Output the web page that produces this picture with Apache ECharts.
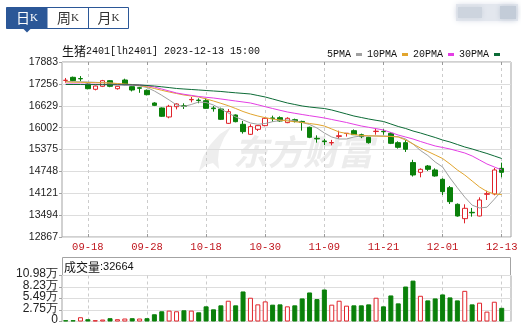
<!DOCTYPE html>
<html><head><meta charset="utf-8">
<script src="https://cdn.jsdelivr.net/npm/echarts@6/dist/echarts.min.js"></script>
<style>html,body{margin:0;padding:0;background:#fff}#c{width:521px;height:328px}</style>
</head><body><div id="c"></div>
<script>
const dates = ['09-13','09-14','09-15','09-18','09-19','09-20','09-21','09-22','09-25','09-26','09-27','09-28',
'10-09','10-10','10-11','10-12','10-13','10-16','10-17','10-18','10-19','10-20','10-23','10-24','10-25','10-26','10-27',
'10-30','10-31','11-01','11-02','11-03','11-06','11-07','11-08','11-09','11-10','11-13','11-14','11-15','11-16','11-17',
'11-20','11-21','11-22','11-23','11-24','11-27','11-28','11-29','11-30','12-01','12-04','12-05','12-06','12-07','12-08',
'12-11','12-12','12-13'];
const openP = [17355,17444,17410,17252,17101,17186,17347,17118,17367,17176,17145,17072,16708,16565,16307,16602,16630,16800,16790,16775,
16565,16536,16125,16364,16097,15810,15953,16059,16280,16288,16145,16230,16180,16011,15695,15620,15565,15750,15835,15915,
15800,15724,15890,15895,15839,15571,15571,15000,14721,14902,14788,14520,14281,13804,13393,13575,13469,14090,14100,14835];
const closeP = [17360,17350,17400,17118,17195,17347,17186,17186,17232,17080,17130,16946,16640,16327,16613,16680,16615,16810,16780,16555,
16545,16240,16460,16173,15887,16030,16059,16269,16260,16192,16269,16180,16150,15724,15680,15600,15575,15770,15840,15800,
15744,15571,15900,15885,15552,15438,15380,14645,14807,14807,14616,14167,13880,13469,13689,13560,13928,14110,14788,14721];
const lowP = [17290,17330,17330,17100,17070,17165,17160,17090,17220,17040,17000,16926,16620,16310,16270,16525,16536,16727,16700,16540,
16460,16220,16106,16154,15830,15791,15906,16040,16173,16170,16130,16150,15915,15700,15571,15500,15495,15686,15745,15790,
15700,15543,15800,15800,15530,15400,15304,14600,14578,14760,14597,14071,13813,13450,13259,13450,13460,13928,14062,14578];
const highP = [17425,17465,17480,17265,17205,17370,17360,17195,17405,17185,17170,17095,16730,16580,16655,16700,16699,16880,16842,16842,
16620,16574,16536,16380,16192,16097,16070,16307,16345,16326,16300,16260,16200,16030,15781,15680,15650,15915,15845,15950,
15830,15740,15972,15960,15877,15610,15648,15080,14835,14930,14835,14550,14329,13830,13804,13700,14004,14196,14845,14998];
const ma5 = [17324,17318,17315,17310,17300,17290,17281,17260,17238,17224,17195,17152,17052,16929,16794,16651,16608,16665,16737,16722,
16651,16536,16421,16307,16221,16135,16098,16120,16172,16206,16221,16201,16149,16092,15991,15848,15733,15676,15676,15733,
15762,15762,15762,15762,15753,15742,15676,15533,15347,15203,15017,14874,14560,14280,14010,13780,13700,13720,13950,14190];
const ma10 = [17310,17304,17301,17295,17290,17287,17281,17267,17252,17238,17210,17172,17124,17072,17023,16980,16937,16909,16880,16823,
16765,16699,16631,16550,16464,16393,16335,16287,16249,16221,16192,16169,16149,16120,16092,16049,15963,15877,15834,15805,
15776,15768,15762,15753,15748,15733,15647,15533,15418,15318,15218,15117,14960,14788,14644,14472,14300,14171,14100,14085];
const ma20 = [17252,17252,17249,17246,17244,17238,17235,17233,17230,17227,17224,17201,17166,17109,17052,16995,16958,16926,16894,16871,
16851,16823,16794,16765,16737,16708,16657,16602,16550,16499,16450,16413,16378,16344,16312,16278,16235,16192,16149,16098,
16049,16011,15974,15934,15862,15790,15733,15676,15605,15539,15476,15433,15390,15333,15275,15189,15075,14960,14874,14788];
const ma30 = [17238,17238,17238,17235,17235,17233,17233,17230,17230,17227,17224,17210,17195,17172,17149,17124,17109,17095,17081,17066,
17052,17038,17018,17000,16983,16966,16923,16880,16823,16765,16708,16665,16622,16593,16570,16550,16507,16450,16393,16335,
16292,16249,16212,16178,16106,16034,15977,15905,15848,15783,15719,15647,15590,15518,15447,15390,15324,15261,15189,15117];
const volumes = [3100,3100,10200,5500,3100,4700,7900,5500,7100,7900,7100,7900,17300,24400,26000,24400,26800,26000,22000,36200,
29100,38600,49600,38600,71700,56700,40900,48000,40200,40900,36200,38600,55100,69300,53500,76400,40200,49600,37800,38600,
38600,40900,56700,36200,62200,43300,83500,97600,61400,50400,55100,64600,57500,50400,73200,40900,44900,23600,47200,32664];
const volUp = [0,0,1,0,1,1,0,1,1,0,1,0,0,0,1,1,0,1,0,0,0,0,1,0,0,1,1,1,0,0,1,0,0,0,0,0,1,1,1,0,0,0,1,0,0,0,0,0,1,0,0,0,0,0,1,0,1,1,1,0];
const priceMin = 12867, priceMax = 17883, priceStep = 627;
const volLabels = ['0','2.75万','5.49万','8.23万','10.98万'];
const volMax = 109800, volStep = 27450;
const maNames = ['5PMA','10PMA','20PMA','30PMA'];
const title = {name:'生猪', code:'2401[lh2401]', time:'2023-12-13 15:00'};

const RED = '#e0242b', GREEN = '#0a800a', FRAME = '#a3a3a3';
const maColors = ['#a0a0a0','#e2a52e','#e43ee4','#0c6b36'];
const showIdx = (i) => i % 8 === 3;

const chart = echarts.init(document.getElementById('c'), null, {renderer:'canvas'});
const candles = dates.map((d,i)=>[openP[i], closeP[i], lowP[i], highP[i]]);
const volData = volumes.map((v,i)=>({value:v, itemStyle: volUp[i] ? {color:'#ffffff', borderColor:RED, borderWidth:1} : {color:GREEN, borderColor:GREEN, borderWidth:1}}));
const mas = [ma5, ma10, ma20, ma30];

const catTick = {show:true, inside:true, length:3, interval:showIdx, alignWithLabel:true, lineStyle:{color:'#999'}};

const option = {
  animation:false,
  backgroundColor:'#ffffff',
  grid:[
    {left:62, top:62, right:10, height:175, show:true, borderColor:FRAME, borderWidth:1, backgroundColor:'transparent'},
    {left:62, top:62, width:443.4, height:175},
    {left:62, top:275.5, right:10, height:46, show:true, borderColor:FRAME, borderWidth:1, backgroundColor:'transparent'},
    {left:62, top:275.5, width:443.4, height:46}
  ],
  xAxis:[
    {gridIndex:0, type:'value', min:0, max:1, show:false},
    {gridIndex:1, type:'category', data:dates, boundaryGap:true,
      axisLine:{show:false}, axisTick:catTick,
      axisLabel:{interval:showIdx, color:'#c0161d', fontFamily:'Liberation Mono', fontSize:10.5, margin:5},
      splitLine:{show:true, interval:showIdx, alignWithLabel:true, lineStyle:{color:'#cccccc', type:[3,3]}}},
    {gridIndex:1, type:'category', data:dates, position:'top', boundaryGap:true,
      axisLine:{show:false}, axisTick:catTick, axisLabel:{show:false}, splitLine:{show:false}},
    {gridIndex:2, type:'value', min:0, max:1, show:false},
    {gridIndex:3, type:'category', data:dates, boundaryGap:true,
      axisLine:{show:false}, axisTick:{show:false}, axisLabel:{show:false},
      splitLine:{show:true, interval:showIdx, alignWithLabel:true, lineStyle:{color:'#cccccc', type:[3,3]}}}
  ],
  yAxis:[
    {gridIndex:0, type:'value', min:priceMin, max:priceMax, interval:priceStep,
      axisLine:{show:false}, axisTick:{show:true, length:3, lineStyle:{color:FRAME}},
      axisLabel:{color:'#222', fontFamily:'Liberation Sans', fontSize:10.5, margin:4, showMinLabel:true, showMaxLabel:true, hideOverlap:false,
        formatter:(v)=>String(Math.round(v))},
      splitLine:{show:true, lineStyle:{color:'#dddddd'}}},
    {gridIndex:1, type:'value', min:priceMin, max:priceMax, interval:priceStep, show:false},
    {gridIndex:2, type:'category', data:volLabels, boundaryGap:false,
      axisLine:{show:false}, axisTick:{show:true, length:3, interval:0, lineStyle:{color:FRAME}},
      axisLabel:{interval:0, color:'#222', fontFamily:'Liberation Sans', fontSize:12, lineHeight:11, verticalAlign:'bottom', padding:[0,0,-4,0],
        margin:4, hideOverlap:false, showMinLabel:true, showMaxLabel:true},
      splitLine:{show:true, interval:0, lineStyle:{color:'#dddddd'}}},
    {gridIndex:3, type:'value', min:0, max:volMax, interval:volStep, show:false}
  ],
  legend:{
    data:maNames, left:327, top:49.5, padding:0, align:'right', icon:'rect', itemWidth:6, itemHeight:3, itemGap:5,
    textStyle:{fontFamily:'Liberation Mono', fontSize:10, color:'#111'}, selectedMode:false
  },
  graphic:[
    {type:'rect', shape:{x:6.5, y:7.5, width:122, height:21}, style:{fill:'#fff', stroke:'#2b5797', lineWidth:1}},
    {type:'rect', shape:{x:6.5, y:7.5, width:41, height:21}, style:{fill:'#2b5797'}},
    {type:'line', shape:{x1:88.5, y1:7.5, x2:88.5, y2:28.5}, style:{stroke:'#2b5797', lineWidth:1}},
    {type:'polygon', shape:{points:[[23,28.5],[31,28.5],[27,32.5]]}, style:{fill:'#2b5797'}},
    {type:'text', style:{text:'{a|日}{b|K}', x:27, y:18, align:'center', verticalAlign:'middle',
      rich:{a:{fontFamily:'Noto Sans CJK SC', fontSize:14, fill:'#fff'}, b:{fontFamily:'Liberation Serif', fontSize:11, fill:'#fff'}}}},
    {type:'text', style:{text:'{a|周}{b|K}', x:68, y:18, align:'center', verticalAlign:'middle',
      rich:{a:{fontFamily:'Noto Sans CJK SC', fontSize:14, fill:'#333'}, b:{fontFamily:'Liberation Serif', fontSize:11, fill:'#333'}}}},
    {type:'text', style:{text:'{a|月}{b|K}', x:108.5, y:18, align:'center', verticalAlign:'middle',
      rich:{a:{fontFamily:'Noto Sans CJK SC', fontSize:14, fill:'#333'}, b:{fontFamily:'Liberation Serif', fontSize:11, fill:'#333'}}}},
    {type:'rect', shape:{x:456, y:4, width:62, height:17}, style:{fill:'#e3e7ee', shadowBlur:6, shadowColor:'#e3e7ee'}},
    {type:'rect', shape:{x:458, y:7, width:24, height:11}, style:{fill:'#cdd4de', shadowBlur:5, shadowColor:'#cdd4de'}},
    {type:'rect', shape:{x:500, y:6, width:16, height:13}, style:{fill:'#c3ccd8', shadowBlur:5, shadowColor:'#c3ccd8'}},
    {type:'text', style:{text:'{a|'+title.name+'}{b|'+title.code+' '+title.time+'}', x:62, y:51, verticalAlign:'middle',
      rich:{a:{fontFamily:'Noto Sans CJK SC', fontSize:12, fill:'#111'}, b:{fontFamily:'Liberation Mono', fontSize:10, fill:'#111'}}}},
    {type:'polygon', z:0, shape:{points:[[199,171],[203,157],[210,145],[220,134],[231,127],[224,138],[219,150],[218,160],[219,169],[213,163],[206,165]]}, style:{fill:'#eeeeee'}},
    {type:'text', z:0, style:{text:'东方财富', x:233, y:152, verticalAlign:'middle', fontFamily:'Noto Sans CJK SC', fontSize:35, fontWeight:'bold', fontStyle:'italic', fill:'#ececec'}},
    {type:'rect', shape:{x:62.5, y:257.5, width:448, height:18}, style:{fill:'none', stroke:FRAME, lineWidth:1}},
    {type:'text', style:{text:'{a|成交量}{b|:'+volumes[volumes.length-1]+'}', x:64, y:267, verticalAlign:'middle',
      rich:{a:{fontFamily:'Noto Sans CJK SC', fontSize:12, fill:'#111'}, b:{fontFamily:'Liberation Sans', fontSize:11, fill:'#111'}}}}
  ],
  series:[
    {type:'candlestick', name:'K', xAxisIndex:1, yAxisIndex:1, data:candles, barWidth:5,
      itemStyle:{color:'#ffffff', color0:GREEN, borderColor:RED, borderColor0:GREEN, borderWidth:1}},
    ...mas.map((m,k)=>({type:'line', name:maNames[k], xAxisIndex:1, yAxisIndex:1, data:m, symbol:'none', smooth:false,
      color:maColors[k], itemStyle:{color:maColors[k]}, lineStyle:{color:maColors[k], width:1}})),
    {type:'bar', name:'VOL', xAxisIndex:4, yAxisIndex:3, data:volData, barWidth:5}
  ]
};
chart.setOption(option);
</script></body></html>
